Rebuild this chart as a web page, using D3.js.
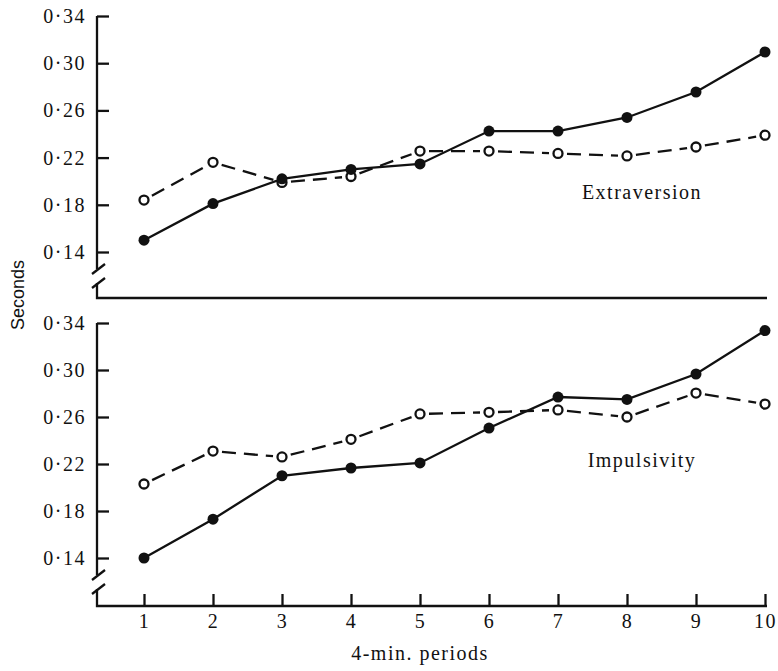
<!DOCTYPE html>
<html>
<head>
<meta charset="utf-8">
<script src="https://cdn.jsdelivr.net/npm/d3@7"></script>
<style>
  body { margin: 0; background: #fff; }
  .serif { font-family: 'Liberation Serif', 'Times New Roman', serif; font-size: 20px; letter-spacing: 1.5px; fill: #111; }
</style>
</head>
<body>
<svg id="chart" width="778" height="671"></svg>
<script>
// 4-min periods
const periods = [1, 2, 3, 4, 5, 6, 7, 8, 9, 10]
const yTicks = [0.14, 0.18, 0.22, 0.26, 0.30, 0.34]

// Extraversion panel (filled = solid line, open = dashed line)
const extraFilled = [0.150, 0.181, 0.202, 0.210, 0.2146, 0.2425, 0.2425, 0.254, 0.2756, 0.3095]
const extraOpen = [0.184, 0.216, 0.199, 0.204, 0.2255, 0.2255, 0.2235, 0.2214, 0.229, 0.239]

// Impulsivity panel
const impFilled = [0.140, 0.173, 0.210, 0.2166, 0.2209, 0.2506, 0.277, 0.275, 0.2966, 0.3336]
const impOpen = [0.203, 0.231, 0.226, 0.241, 0.2626, 0.264, 0.266, 0.260, 0.2804, 0.271]

const svg = d3.select('#chart')
const x = d3.scaleLinear().domain([1, 10]).range([144, 765])
const axisX = 97
const rightX = 767
const sw = 2.3
const fmt = d => d3.format('.2f')(d).replace('.', '·')

function panel (filled, open, range, baseY, label, labelY) {
  const y = d3.scaleLinear().domain([0.14, 0.34]).range(range)
  const g = svg.append('g')

  // y axis ticks and labels
  const ax = g.append('g')
    .attr('transform', `translate(${axisX},0)`)
    .call(d3.axisLeft(y).tickValues(yTicks).tickSizeInner(-12).tickSizeOuter(0).tickPadding(11).tickFormat(fmt))
  ax.select('.domain').remove()
  ax.selectAll('line').attr('stroke', '#111').attr('stroke-width', sw)
  ax.selectAll('text').attr('class', 'serif').attr('font-size', null).attr('font-family', null).attr('fill', null)

  // axis line with break
  const breakTop = y(0.14) + 17
  const breakBot = breakTop + 14
  g.append('path')
    .attr('d', `M${axisX},${y(0.34)}V${breakTop}M${axisX},${breakBot}V${baseY}H${rightX}`)
    .attr('fill', 'none').attr('stroke', '#111').attr('stroke-width', sw)
  g.selectAll('.brk').data([breakTop, breakBot])
    .join('line')
    .attr('x1', axisX - 5).attr('x2', axisX + 8)
    .attr('y1', d => d + 5).attr('y2', d => d - 5)
    .attr('stroke', '#111').attr('stroke-width', sw)

  // dashed segments between open points, leaving a gap at each circle
  const segs = d3.pairs(open.map((v, i) => [x(periods[i]), y(v)]))
  g.selectAll('.seg').data(segs)
    .join('line')
    .each(function ([a, b]) {
      const dx = b[0] - a[0]
      const dy = b[1] - a[1]
      const len = Math.hypot(dx, dy)
      const ux = dx / len
      const uy = dy / len
      const gap = 9
      d3.select(this)
        .attr('x1', a[0] + ux * gap).attr('y1', a[1] + uy * gap)
        .attr('x2', b[0] - ux * gap).attr('y2', b[1] - uy * gap)
    })
    .attr('stroke', '#111').attr('stroke-width', sw)
    .attr('stroke-dasharray', '14,8')

  // solid line
  const line = d3.line().x((d, i) => x(periods[i])).y(d => y(d))
  g.append('path').datum(filled)
    .attr('d', line)
    .attr('fill', 'none').attr('stroke', '#111').attr('stroke-width', sw)

  g.selectAll('.open').data(open)
    .join('circle')
    .attr('cx', (d, i) => x(periods[i])).attr('cy', d => y(d))
    .attr('r', 4.5)
    .attr('fill', '#fff').attr('stroke', '#111').attr('stroke-width', sw)

  g.selectAll('.filled').data(filled)
    .join('circle')
    .attr('cx', (d, i) => x(periods[i])).attr('cy', d => y(d))
    .attr('r', 5.5)
    .attr('fill', '#111')

  g.append('text')
    .attr('class', 'serif')
    .attr('x', 642).attr('y', labelY)
    .attr('text-anchor', 'middle')
    .attr('dominant-baseline', 'middle')
    .text(label)

  return y
}

panel(extraFilled, extraOpen, [252, 16], 298, 'Extraversion', 194)
panel(impFilled, impOpen, [558, 323], 606, 'Impulsivity', 462)

// x axis of the lower panel
const xa = svg.append('g')
  .attr('transform', 'translate(0,606)')
  .call(d3.axisBottom(x).tickValues(periods).tickSizeInner(-12).tickSizeOuter(0).tickPadding(8))
xa.select('.domain').remove()
xa.selectAll('line').attr('stroke', '#111').attr('stroke-width', sw)
xa.selectAll('text').attr('class', 'serif').attr('font-size', null).attr('font-family', null).attr('fill', null)

svg.append('text')
  .attr('class', 'serif')
  .attr('x', 420).attr('y', 655)
  .attr('text-anchor', 'middle')
  .attr('dominant-baseline', 'middle')
  .text('4-min. periods')

svg.append('text')
  .attr('transform', 'translate(19,295) rotate(-90)')
  .attr('text-anchor', 'middle')
  .attr('dominant-baseline', 'middle')
  .style('font-family', 'Liberation Sans, Arial, sans-serif')
  .style('font-size', '18px')
  .attr('fill', '#111')
  .text('Seconds')
</script>
</body>
</html>
